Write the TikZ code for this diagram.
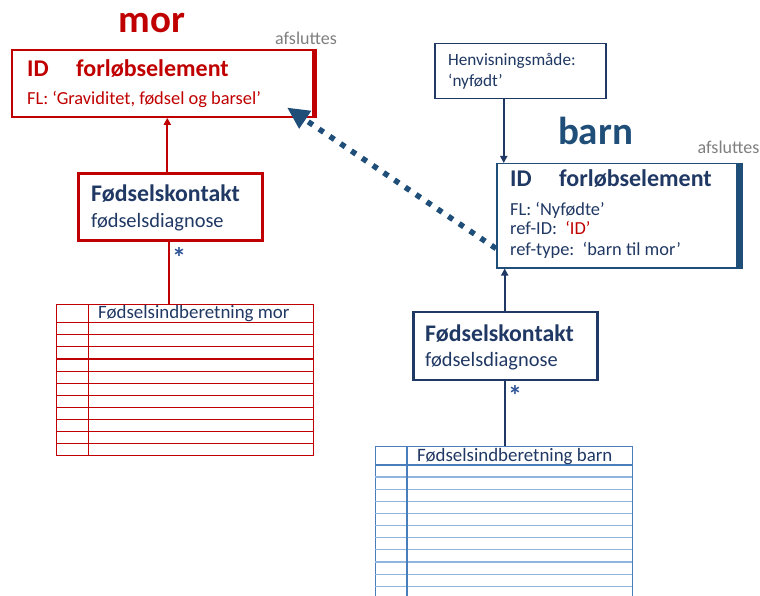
\documentclass[tikz,border=0pt]{standalone}
\usepackage{fontspec}
\setmainfont{Carlito}
\usetikzlibrary{arrows.meta}
\definecolor{mred}{HTML}{C00000}
\definecolor{navy}{HTML}{203864}
\definecolor{bblue}{HTML}{1F4E79}
\definecolor{tblue}{HTML}{4A7EBB}
\definecolor{tlight}{HTML}{8FB4DE}
\definecolor{agray}{HTML}{7F7F7F}
\definecolor{starblue}{HTML}{2F5597}
\newcommand\fsz[1]{\fontsize{#1}{#1}\selectfont}
\begin{document}
\begin{tikzpicture}[x=1pt,y=-1pt,
  txt/.style={inner sep=0pt, anchor=base west},
  boxr/.style={draw=#1, anchor=north west, inner sep=0pt},
  title/.style={inner sep=0pt, anchor=base, font=\fsz{39}\bfseries},
  afs/.style={txt, text=agray, font=\fsz{18}},
  head/.style={txt, font=\fsz{24}\bfseries},
  body/.style={txt, font=\fsz{18.4}},
  fkhead/.style={txt, text=navy, font=\fsz{23.8}\bfseries},
  fkbody/.style={txt, text=navy, font=\fsz{20.4}},
  star/.style={inner sep=0pt, anchor=base, text=starblue, font=\fsz{28}\bfseries},
  thead/.style={txt, text=navy, font=\fsz{18.9}}
]
\useasboundingbox (0,0) rectangle (760,596);
\clip (0,0) rectangle (760,596);
\fill[white] (0,0) rectangle (760,596);

% ---------- mor ----------
\node[title, text=mred] (mortitle) at (152,33) {mor};
\node[afs] (morafs) at (275,45) {afsluttes};
\node[boxr=mred, line width=1.8pt, minimum width=301pt, minimum height=67pt] (morbox) at (11,49) {};
\draw[mred, line width=5pt] ([xshift=0.5pt]morbox.north east) -- ([xshift=0.5pt]morbox.south east);
\node[head, text=mred] (morid) at (27,77) {ID};
\node[head, text=mred] (morfe) at (76,77) {forløbselement};
\node[body, text=mred] (morfl) at (27,105) {FL: ‘Graviditet, fødsel og barsel’};

\node[boxr=mred, line width=2.6pt, minimum width=184pt, minimum height=67pt] (morFK) at (77,172) {};
\node[fkhead] (morfk1) at (91,201) {Fødselskontakt};
\node[fkbody] (morfk2) at (91,227) {fødselsdiagnose};
\draw[mred, line width=2pt, -{Triangle[length=7pt,width=7pt]}] ([xshift=-3pt]morFK.north) -- ([xshift=-3pt]morFK.north |- morbox.south);

% table mor
\node[boxr=mred, line width=1.4pt, minimum width=257pt, minimum height=151pt] (mortable) at (56,304) {};
\foreach \y in {322.7,334.8,346.9,359,371.1,383.2,395.3,407.4,419.5,431.6,443.7}
  \draw[mred, line width=1.1pt] (56,\y) -- (313,\y);
\draw[mred, line width=1.4pt] (88.5,304) -- (88.5,455);
\node[thead] (morth) at (98,318.5) {Fødselsindberetning mor};
\draw[mred, line width=2pt] ([xshift=-1.8pt]morFK.south) -- ([xshift=-1.8pt]morFK.south |- mortable.north);
\node[star] (morstar) at (179,267) {*};

% ---------- barn ----------
\node[boxr=navy, line width=1.5pt, minimum width=171pt, minimum height=55pt] (henv) at (434,43) {};
\node[txt, text=navy, font=\fsz{17.2}] (henv1) at (448,66) {Henvisningsmåde:};
\node[txt, text=navy, font=\fsz{17.2}] (henv2) at (448,87) {‘nyfødt’};

\node[title, text=bblue] (barntitle) at (595.5,144.3) {barn};
\node[afs] (barnafs) at (697.5,154) {afsluttes};
\node[boxr=bblue, line width=1.5pt, minimum width=240pt, minimum height=104pt] (barnbox) at (496,163) {};
\draw[bblue, line width=5pt] ([xshift=2.5pt]barnbox.north east) -- ([xshift=2.5pt]barnbox.south east);
\draw[navy, line width=2.2pt, -{Triangle[length=7pt,width=7pt]}] ([xshift=-16.5pt]henv.south) -- ([xshift=-16.5pt]henv.south |- barnbox.north);
\node[head, text=navy] (barnid) at (510,187) {ID};
\node[head, text=navy] (barnfe) at (559,187) {forløbselement};
\node[body, text=navy] (barnfl) at (510,215) {FL: ‘Nyfødte’};
\node[body, text=navy] (barnref) at (510,234) {ref-ID:\ \ \textcolor{mred}{‘ID’}};
\node[body, text=navy] (barntype) at (510,255.7) {ref-type:\ \ ‘barn til mor’};

\node[boxr=navy, line width=2.6pt, minimum width=184pt, minimum height=68pt] (barnFK) at (412,310.5) {};
\node[fkhead] (barnfk1) at (425,341) {Fødselskontakt};
\node[fkbody] (barnfk2) at (425,366) {fødselsdiagnose};
\draw[navy, line width=2pt, -{Triangle[length=7pt,width=7pt]}] ([xshift=-0.6pt]barnFK.north) -- ([xshift=-0.6pt]barnFK.north |- barnbox.south);

% table barn
\node[boxr=tblue, line width=1.4pt, minimum width=257pt, minimum height=170pt] (barntable) at (375,446) {};
\foreach \y in {477,489.1,501.2,513.3,525.5,537.6,549.8,562,574.1,586.3}
  \draw[tlight, line width=1.1pt] (375,\y) -- (632,\y);
\draw[tblue, line width=1.3pt] (375,465) -- (632,465);
\draw[tblue, line width=1.4pt] (407,446) -- (407,620);
\node[thead] (barnth) at (417,461) {Fødselsindberetning barn};
\draw[navy, line width=2pt] ([xshift=-0.6pt]barnFK.south) -- ([xshift=-0.6pt]barnFK.south |- barntable.north);
\node[star] (barnstar) at (515,405.5) {*};

% dotted reference arrow
\coordinate (reftip) at (287,107.5);
\draw[bblue, line width=5.5pt, dash pattern=on 5.5pt off 7.5pt, -{Triangle[length=22pt,width=20pt]}] ([yshift=20pt]barnbox.south west) -- (reftip);
\end{tikzpicture}
\end{document}
